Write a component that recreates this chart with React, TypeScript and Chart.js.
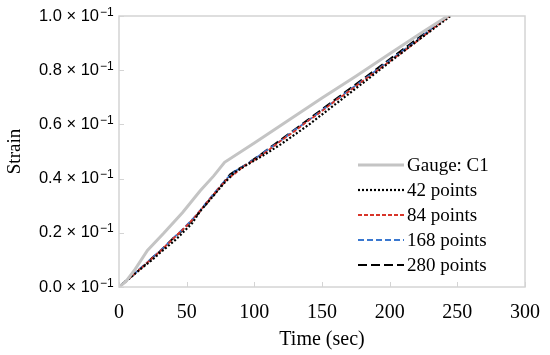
import React, { useEffect, useRef } from "react";
import { Chart, registerables } from "chart.js";

Chart.register(...registerables);

const yTicks = [0, 0.02, 0.04, 0.06, 0.08, 0.1];
const xTicks = [0, 50, 100, 150, 200, 250, 300];

const gaugeT = [0, 5, 12, 21, 33, 47, 60, 70, 78, 100, 125, 150, 175, 200, 225, 243];
const gaugeS = [0, 0.002, 0.0066, 0.0135, 0.0198, 0.0275, 0.0355, 0.041, 0.046, 0.0531, 0.0614, 0.0697, 0.0778, 0.0861, 0.0943, 0.1];

const p42T = [0, 6, 12, 18, 24, 30, 36, 42, 48, 54, 60, 66, 72, 78, 86, 96, 108, 120, 140, 160, 180, 200, 220, 245];
const p42S = [0, 0.0025, 0.005, 0.0075, 0.0098, 0.0125, 0.015, 0.0175, 0.0205, 0.0235, 0.028, 0.0315, 0.035, 0.0385, 0.0425, 0.0455, 0.049, 0.0528, 0.0598, 0.0675, 0.0752, 0.083, 0.0907, 0.1];

const p84T = [0, 5, 10, 15, 20, 25, 30, 35, 40, 45, 50, 55, 60, 65, 70, 75, 80, 86, 92, 100, 110, 120, 130, 140, 150, 160, 170, 180, 190, 200, 210, 220, 230, 244];
const p84S = [0, 0.002, 0.0043, 0.0063, 0.0086, 0.0108, 0.013, 0.0154, 0.0178, 0.0202, 0.0226, 0.0252, 0.0282, 0.0312, 0.0342, 0.0372, 0.0398, 0.042, 0.0445, 0.0468, 0.0503, 0.0541, 0.0576, 0.0614, 0.0649, 0.0688, 0.0722, 0.076, 0.0795, 0.0833, 0.0868, 0.0906, 0.0945, 0.1];

const p168T = [0, 5, 10, 15, 20, 25, 30, 35, 40, 45, 50, 55, 60, 65, 70, 75, 80, 86, 92, 100, 110, 120, 130, 140, 150, 160, 170, 180, 190, 200, 210, 220, 230, 243];
const p168S = [0, 0.0022, 0.0042, 0.0066, 0.0087, 0.011, 0.0132, 0.0155, 0.018, 0.0203, 0.0228, 0.0254, 0.0283, 0.0314, 0.0344, 0.0374, 0.0402, 0.0428, 0.0446, 0.0472, 0.0507, 0.0542, 0.058, 0.0615, 0.0652, 0.0688, 0.0726, 0.0762, 0.0799, 0.0836, 0.0873, 0.0909, 0.0951, 0.1];

const p280T = [0, 5, 10, 15, 20, 25, 30, 35, 40, 45, 50, 55, 60, 65, 70, 75, 78, 82, 88, 95, 105, 115, 125, 135, 145, 155, 165, 175, 185, 195, 205, 215, 225, 235, 243];
const p280S = [0, 0.0022, 0.0042, 0.0065, 0.0085, 0.011, 0.013, 0.0155, 0.018, 0.02, 0.0225, 0.025, 0.028, 0.031, 0.034, 0.037, 0.039, 0.0415, 0.0435, 0.0455, 0.049, 0.0527, 0.0563, 0.06, 0.0637, 0.0674, 0.0711, 0.0748, 0.0785, 0.0822, 0.0859, 0.0896, 0.0933, 0.097, 0.1];

const labels = ["Gauge: C1", "42 points", "84 points", "168 points", "280 points"];

const pts = (t: number[], s: number[]) => t.map((x, i) => ({ x, y: s[i] }));

const AXIS_COLOR = "#d4d4d4";
const SERIF = "'Liberation Serif', 'Times New Roman', serif";
const SANS = "'Liberation Sans', Arial, sans-serif";
const Y_LABEL_PAD = 20;

const innerTicks = {
  id: "innerTicks",
  afterDatasetsDraw(chart: any) {
    const { ctx, chartArea, scales } = chart;
    ctx.save();
    ctx.strokeStyle = AXIS_COLOR;
    ctx.lineWidth = 1;
    xTicks.forEach((v) => {
      const x = Math.round(scales.x.getPixelForValue(v)) + 0.5;
      ctx.beginPath();
      ctx.moveTo(x, chartArea.bottom);
      ctx.lineTo(x, chartArea.bottom - 5);
      ctx.stroke();
    });
    yTicks.forEach((v) => {
      const y = Math.round(scales.y.getPixelForValue(v)) + 0.5;
      ctx.beginPath();
      ctx.moveTo(chartArea.left, y);
      ctx.lineTo(chartArea.left + 5, y);
      ctx.stroke();
    });
    ctx.lineWidth = 1.5;
    ctx.strokeRect(chartArea.left, chartArea.top, chartArea.right - chartArea.left, chartArea.bottom - chartArea.top);
    // exponent of the y tick labels
    ctx.fillStyle = "#000";
    ctx.font = "12px " + SANS;
    ctx.textAlign = "left";
    ctx.textBaseline = "alphabetic";
    yTicks.forEach((v) => {
      const y = scales.y.getPixelForValue(v);
      ctx.fillText("\u22121", chartArea.left - Y_LABEL_PAD + 1, y - 0.5);
    });
    ctx.restore();
  },
};

const customLegend = {
  id: "customLegend",
  afterDraw(chart: any) {
    const { ctx } = chart;
    ctx.save();
    const x0 = 358;
    const x1 = 404;
    const tx = 407;
    let y = 165;
    chart.data.datasets.forEach((ds: any) => {
      ctx.strokeStyle = ds.borderColor;
      ctx.lineWidth = ds.borderWidth;
      ctx.setLineDash(ds.borderDash || []);
      ctx.beginPath();
      ctx.moveTo(x0, y);
      ctx.lineTo(x1, y);
      ctx.stroke();
      ctx.setLineDash([]);
      ctx.fillStyle = "#000";
      ctx.font = "19px " + SERIF;
      ctx.textBaseline = "middle";
      ctx.textAlign = "left";
      ctx.fillText(ds.label, tx, y + 1);
      y += 25;
    });
    ctx.restore();
  },
};

export default function App() {
  const ref = useRef<HTMLCanvasElement>(null);
  useEffect(() => {
    document.body.style.margin = "0";
    const chart = new Chart(ref.current!, {
      type: "line",
      data: {
        datasets: [
          { label: labels[0], data: pts(gaugeT, gaugeS), borderColor: "#c4c4c4", borderWidth: 3, pointRadius: 0, tension: 0 },
          { label: labels[1], data: pts(p42T, p42S), borderColor: "#000000", borderWidth: 2.2, borderDash: [2, 2], pointRadius: 0 },
          { label: labels[2], data: pts(p84T, p84S), borderColor: "#d8352a", borderWidth: 1.8, borderDash: [4, 2], pointRadius: 0 },
          { label: labels[3], data: pts(p168T, p168S), borderColor: "#3a78d0", borderWidth: 1.8, borderDash: [6, 3], pointRadius: 0 },
          { label: labels[4], data: pts(p280T, p280S), borderColor: "#000000", borderWidth: 2, borderDash: [9, 4], pointRadius: 0 },
        ],
      },
      options: {
        animation: false,
        responsive: false,
        maintainAspectRatio: false,
        layout: { padding: { top: 16, right: 25, left: 0, bottom: 0 } },
        plugins: { legend: { display: false }, tooltip: { enabled: false } },
        scales: {
          x: {
            type: "linear",
            min: 0,
            max: 300,
            afterBuildTicks: (s: any) => {
              s.ticks = xTicks.map((v) => ({ value: v }));
            },
            afterFit: (s: any) => {
              s.height = 68;
              s.paddingLeft = 0;
              s.paddingRight = 0;
              s.paddingTop = 0;
              s.paddingBottom = 0;
            },
            grid: { display: false, drawTicks: false },
            border: { display: false },
            ticks: { color: "#000", font: { family: SERIF, size: 20 }, padding: 14, maxRotation: 0 },
            title: { display: true, text: "Time (sec)", color: "#000", font: { family: SERIF, size: 20 }, padding: { top: 4, bottom: 3 } },
          },
          y: {
            type: "linear",
            min: 0,
            max: 0.1,
            afterBuildTicks: (s: any) => {
              s.ticks = yTicks.map((v) => ({ value: v }));
            },
            afterFit: (s: any) => {
              s.width = 119;
              s.paddingLeft = 0;
              s.paddingRight = 0;
              s.paddingTop = 0;
              s.paddingBottom = 0;
            },
            grid: { display: false, drawTicks: false },
            border: { display: false },
            ticks: {
              color: "#000",
              font: { family: SANS, size: 16.5 },
              padding: Y_LABEL_PAD,
              callback: (v: any) => (Number(v) * 10).toFixed(1) + " \u00d7 10",
            },
            title: { display: true, text: "Strain", color: "#000", font: { family: SERIF, size: 19 }, padding: { top: 4, bottom: 4 } },
          },
        },
      },
      plugins: [innerTicks, customLegend],
    } as any);
    return () => chart.destroy();
  }, []);
  return <canvas ref={ref} width={550} height={355} style={{ display: "block" }} />;
}
